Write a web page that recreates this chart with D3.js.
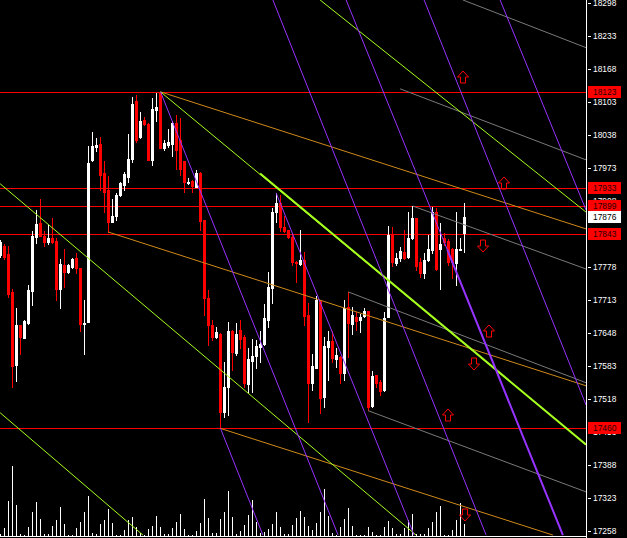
<!DOCTYPE html>
<html>
<head>
<meta charset="utf-8">
<script src="https://cdn.jsdelivr.net/npm/d3@7"></script>
<style>
  html, body { margin: 0; padding: 0; background: #000; overflow: hidden; }
  svg { display: block; }
  text { font-family: "Liberation Sans", Arial, sans-serif; font-size: 8.4px; }
</style>
</head>
<body>
<div id="chart"></div>
<script>
// candles, oldest first
var opens = [17802,17820,17804,17729,17585,17664,17639,17667,17731,17838,17865,17839,17827,17835,17829,17735,17782,17768,17778,17795,
  17776,17665,17670,17989,18014,18020,17963,17930,17867,17879,17920,17940,17956,17991,18104,18034,18068,18060,17989,18087,
  18120,18012,18018,18020,18062,18028,17987,17944,17947,17936,17964,17871,17716,17664,17641,17647,17492,17542,17651,17608,
  17654,17641,17548,17593,17603,17621,17626,17674,17736,17886,17904,17857,17851,17838,17788,17784,17792,17683,17549,17580,
  17711,17521,17621,17632,17596,17601,17569,17700,17665,17679,17674,17682,17691,17505,17565,17552,17536,17680,17841,17785,
  17795,17808,17798,17835,17875,17788,17766,17792,17812,17887,17813,17836,17829,17813,17786,17812,17844];
var highs = [17831,17823,17819,17735,17698,17664,17673,17743,17849,17890,17912,17848,17861,17874,17835,17794,17814,17784,17796,17805,
  17776,17713,18016,18044,18032,18034,17987,17957,17912,17924,17946,17965,18040,18113,18117,18084,18074,18061,18110,18120,
  18123,18028,18050,18066,18077,18071,17987,17954,17950,17969,17966,17871,17733,17674,17659,17648,17591,17669,17654,17667,
  17674,17644,17618,17636,17634,17651,17705,17769,17895,17923,17920,17879,17851,17841,17789,17851,17808,17707,17606,17720,
  17713,17641,17651,17652,17618,17602,17713,17728,17700,17690,17685,17697,17691,17573,17565,17555,17690,17859,17857,17805,
  17818,17851,17887,17899,17875,17796,17805,17841,17897,17895,17864,17844,17833,17815,17887,17835,17905];
var lows = [17798,17794,17718,17542,17554,17607,17638,17666,17703,17825,17839,17819,17823,17826,17713,17698,17739,17766,17776,17766,
  17652,17607,17670,17987,18007,17930,17887,17847,17867,17871,17917,17930,17946,17985,18024,18032,18058,17989,17979,18066,
  18012,18008,18014,17997,17972,17959,17926,17941,17925,17935,17850,17683,17624,17634,17638,17460,17483,17486,17575,17605,
  17618,17542,17532,17532,17579,17591,17624,17660,17707,17866,17849,17847,17835,17782,17749,17782,17664,17473,17536,17579,
  17490,17503,17555,17591,17582,17549,17555,17601,17647,17654,17649,17680,17496,17503,17542,17525,17534,17680,17779,17781,
  17790,17794,17795,17833,17772,17759,17756,17790,17805,17772,17735,17821,17782,17756,17743,17811,17808];
var closes = [17827,17798,17725,17583,17664,17641,17672,17733,17840,17863,17839,17828,17835,17827,17735,17784,17769,17782,17794,17776,
  17665,17667,17983,18016,18018,17959,17926,17867,17879,17920,17943,17961,17991,18100,18028,18066,18059,17989,18089,18093,
  18012,18023,18025,18061,18008,17972,17946,17946,17938,17963,17869,17716,17664,17641,17649,17492,17542,17651,17611,17647,
  17636,17549,17597,17603,17622,17626,17677,17739,17887,17904,17857,17848,17838,17788,17785,17792,17682,17549,17583,17713,
  17520,17622,17632,17599,17605,17569,17697,17667,17683,17672,17680,17691,17503,17563,17549,17534,17677,17841,17788,17795,
  17810,17795,17835,17875,17779,17766,17792,17813,17887,17774,17823,17828,17788,17787,17813,17813,17876];
var volumes = [17,83,350,700,310,17,10,90,240,340,167,17,17,100,160,290,123,7,7,77,
  140,240,400,30,23,120,160,273,133,10,10,60,160,190,90,33,10,70,100,200,
  90,23,23,77,140,217,67,10,10,50,133,373,177,30,30,170,240,450,190,23,
  50,110,210,360,140,30,43,67,123,240,90,23,23,110,180,250,190,100,57,133,
  240,467,200,30,10,90,167,277,100,10,10,10,90,43,10,10,90,150,83,17,
  17,77,160,217,17,23,17,77,143,243,300,10,10,60,160,330,123];

// price axis
var priceTicks = [18298,18233,18168,18103,18038,17973,17908,17843,17778,17713,17648,17583,17518,17453,17388,17323,17258];
var levelPrices = [18123, 17933, 17899, 17843, 17460];
var lastPrice = 17876;

// drawn objects: [bar1, price1, bar2, price2, width]
var purpleLines = [
  [40, 18123, 84.4, 17250, 1],
  [68.9, 17924, 103.4, 17250, 1],
  [55, 17460, 65.6, 17250, 1],
  [68.1, 18304, 121.4, 17250, 1],
  [86.4, 18304, 140.6, 17250, 1],
  [111.7, 17812, 140.6, 17250, 2],
  [105.9, 18304, 146.4, 17506, 1],
  [124.9, 18304, 146.4, 17890, 1]
];
var greenLines = [
  [40, 18123, 146.4, 17428, 1],
  [64.9, 17962, 146.4, 17428, 2],
  [-0.1, 17942, 103.9, 17250, 1],
  [-0.1, 17491, 35.6, 17250, 1],
  [79.9, 18304, 146.4, 17886, 1]
];
var orangeLines = [
  [40, 18123, 146.4, 17853, 1],
  [26.9, 17847, 146.4, 17544, 1],
  [55, 17460, 138.1, 17250, 1]
];
var grayLines = [
  [99.9, 18129, 146.4, 17989, 1],
  [103.1, 17898, 146.4, 17774, 1],
  [86.9, 17729, 146.4, 17550, 1],
  [91.9, 17495, 146.4, 17335, 1],
  [115.6, 18304, 146.4, 18210, 1]
];
var upArrows = [[115.6, 18152], [125.9, 17944], [122.1, 17652], [111.9, 17487]];
var downArrows = [[120.6, 17820], [118.4, 17587], [116.1, 17290]];

var W = 627, H = 538, plotRight = 586, plotBottom = 536;

var svg = d3.select('#chart').append('svg')
  .attr('width', W).attr('height', H)
  .style('background', '#000');

var x = d3.scaleLinear().domain([0, 146.375]).range([0.5, plotRight]);
var y = d3.scaleLinear().domain([17258, 18298]).range([531, 3]);
var yVol = d3.scaleLinear().domain([0, 1000]).range([plotBottom, plotBottom - 100]);

svg.append('clipPath').attr('id', 'plot')
  .append('rect').attr('x', 0).attr('y', 0).attr('width', plotRight).attr('height', plotBottom);

var plot = svg.append('g').attr('clip-path', 'url(#plot)');

// volumes
plot.selectAll('.vol')
  .data(volumes)
  .enter()
  .append('line')
  .attr('x1', function (d, i) { return Math.floor(x(i)) + 0.5; })
  .attr('x2', function (d, i) { return Math.floor(x(i)) + 0.5; })
  .attr('y1', plotBottom)
  .attr('y2', function (d) { return Math.round(yVol(d)); })
  .attr('stroke', '#fff')
  .attr('stroke-width', 1);

// horizontal levels
plot.selectAll('.level')
  .data(levelPrices)
  .enter()
  .append('line')
  .attr('x1', 0).attr('x2', plotRight)
  .attr('y1', function (d) { return Math.round(y(d)) + 0.5; })
  .attr('y2', function (d) { return Math.round(y(d)) + 0.5; })
  .attr('stroke', '#ff0000')
  .attr('stroke-width', 1);

// candles
var candles = d3.range(opens.length).map(function (i) {
  return { i: i, o: opens[i], h: highs[i], l: lows[i], c: closes[i] };
});
var cg = plot.selectAll('.candle')
  .data(candles)
  .enter()
  .append('g')
  .attr('class', 'candle');

cg.append('line')
  .attr('x1', function (d) { return Math.floor(x(d.i)) + 0.5; })
  .attr('x2', function (d) { return Math.floor(x(d.i)) + 0.5; })
  .attr('y1', function (d) { return Math.round(y(d.h)); })
  .attr('y2', function (d) { return Math.round(y(d.l)) + 1; })
  .attr('stroke', function (d) { return d.c >= d.o ? '#fff' : '#ff0000'; })
  .attr('stroke-width', 1);

cg.append('rect')
  .attr('x', function (d) { return Math.floor(x(d.i)) - 1; })
  .attr('width', 3)
  .attr('y', function (d) { return Math.round(y(Math.max(d.o, d.c))); })
  .attr('height', function (d) {
    return Math.max(1, Math.round(y(Math.min(d.o, d.c))) - Math.round(y(Math.max(d.o, d.c))) + 1);
  })
  .attr('fill', function (d) { return d.c >= d.o ? '#fff' : '#ff0000'; });

// trend lines
function drawLines(data, color) {
  plot.selectAll(null)
    .data(data)
    .enter()
    .append('line')
    .attr('x1', function (d) { return x(d[0]); })
    .attr('y1', function (d) { return y(d[1]); })
    .attr('x2', function (d) { return x(d[2]); })
    .attr('y2', function (d) { return y(d[3]); })
    .attr('stroke', color)
    .attr('stroke-width', function (d) { return d[4]; });
}
drawLines(grayLines, '#7a7a7a');
drawLines(orangeLines, '#d08a1a');
drawLines(greenLines, '#a6ff1e');
drawLines(purpleLines, '#9633ff');

// arrows
var upPath = 'M0,-6L5.5,0L2.5,0L2.5,6L-2.5,6L-2.5,0L-5.5,0Z';
plot.selectAll('.up')
  .data(upArrows)
  .enter()
  .append('path')
  .attr('d', upPath)
  .attr('transform', function (d) { return 'translate(' + Math.round(x(d[0])) + ',' + Math.round(y(d[1])) + ')'; })
  .attr('fill', 'none')
  .attr('stroke', '#ff0000');
plot.selectAll('.down')
  .data(downArrows)
  .enter()
  .append('path')
  .attr('d', upPath)
  .attr('transform', function (d) { return 'translate(' + Math.round(x(d[0])) + ',' + Math.round(y(d[1])) + ') rotate(180)'; })
  .attr('fill', 'none')
  .attr('stroke', '#ff0000');

// frame
svg.append('line')
  .attr('x1', plotRight + 0.5).attr('x2', plotRight + 0.5)
  .attr('y1', 0).attr('y2', H)
  .attr('stroke', '#fff');
svg.append('line')
  .attr('x1', 0).attr('x2', plotRight)
  .attr('y1', plotBottom + 0.5).attr('y2', plotBottom + 0.5)
  .attr('stroke', '#fff');

// price axis
var axis = svg.append('g');
axis.selectAll('.tick')
  .data(priceTicks)
  .enter()
  .append('line')
  .attr('x1', plotRight + 2).attr('x2', plotRight + 5)
  .attr('y1', function (d) { return Math.round(y(d)) + 0.5; })
  .attr('y2', function (d) { return Math.round(y(d)) + 0.5; })
  .attr('stroke', '#fff');
axis.selectAll('.lbl')
  .data(priceTicks)
  .enter()
  .append('text')
  .attr('x', plotRight + 7)
  .attr('y', function (d) { return Math.round(y(d)) + 3; })
  .attr('fill', '#fff')
  .text(function (d) { return d; });

// level labels
function priceBox(p, bg, fg) {
  var g = svg.append('g').attr('transform', 'translate(0,' + Math.round(y(p)) + ')');
  g.append('rect')
    .attr('x', plotRight + 2).attr('y', -6)
    .attr('width', 33).attr('height', 12)
    .attr('fill', bg);
  g.append('text')
    .attr('x', plotRight + 7).attr('y', 3)
    .attr('fill', fg)
    .text(p);
}
levelPrices.forEach(function (p) { priceBox(p, '#ff0000', '#2a0000'); });
priceBox(lastPrice, '#fff', '#000');
</script>
</body>
</html>
